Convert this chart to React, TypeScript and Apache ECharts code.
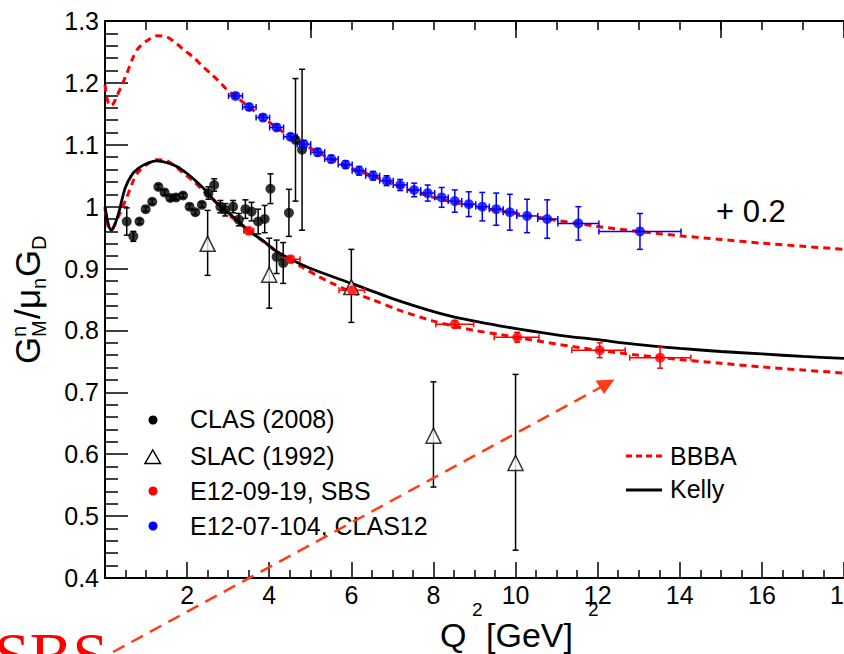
import React, { useEffect, useRef } from "react";
import * as echarts from "echarts";

// ---------- data ----------
// CLAS (2008)
const clasQ2 = [0.53, 0.69, 0.84, 0.99, 1.15, 1.30, 1.45, 1.59, 1.73, 1.90, 2.06, 2.20, 2.36, 2.52, 2.66, 2.81, 2.93, 3.12, 3.26, 3.42, 3.57, 3.73, 3.89, 4.03, 4.18, 4.34, 4.48, 4.64, 4.80];
const clasG = [0.976, 0.952, 0.976, 0.996, 1.008, 1.032, 1.023, 1.014, 1.015, 1.018, 1.000, 0.991, 1.003, 1.022, 1.035, 1.000, 0.995, 1.000, 0.979, 0.996, 0.992, 0.976, 0.980, 1.029, 0.919, 0.909, 0.990, 1.108, 1.092];
const clasErr = [0.022, 0.008, 0.004, 0.004, 0.004, 0.004, 0.004, 0.004, 0.004, 0.004, 0.004, 0.004, 0.004, 0.010, 0.010, 0.010, 0.010, 0.010, 0.010, 0.015, 0.015, 0.020, 0.022, 0.024, 0.027, 0.033, 0.038, 0.099, 0.130];

// SLAC (1992)
const slacQ2 = [2.5, 4.0, 6.0, 8.0, 10.0];
const slacG = [0.940, 0.890, 0.870, 0.630, 0.586];
const slacLo = [0.889, 0.836, 0.813, 0.547, 0.445];
const slacHi = [0.994, 0.949, 0.931, 0.717, 0.729];

// E12-09-19, SBS
const sbsQ2 = [3.50, 4.52, 6.02, 8.52, 10.04, 12.05, 13.52];
const sbsG = [0.961, 0.915, 0.865, 0.810, 0.789, 0.768, 0.756];
const sbsXLo = [3.38, 4.30, 5.70, 8.06, 9.48, 11.37, 12.78];
const sbsXHi = [3.62, 4.75, 6.32, 8.98, 10.57, 12.67, 14.27];
const sbsErr = [0.004, 0.005, 0.006, 0.006, 0.008, 0.012, 0.017];

// E12-07-104, CLAS12 (shown shifted by +0.2)
const clas12Q2 = [3.18, 3.51, 3.85, 4.18, 4.52, 4.84, 5.18, 5.51, 5.86, 6.19, 6.53, 6.86, 7.19, 7.53, 7.86, 8.20, 8.52, 8.86, 9.19, 9.53, 9.86, 10.28, 10.77, 11.53, 13.03];
const clas12G = [1.179, 1.161, 1.144, 1.128, 1.113, 1.101, 1.088, 1.077, 1.068, 1.058, 1.050, 1.042, 1.035, 1.027, 1.022, 1.015, 1.009, 1.004, 1.000, 0.996, 0.991, 0.985, 0.980, 0.973, 0.960];
const clas12XLo = [3.01, 3.35, 3.68, 4.01, 4.35, 4.68, 5.01, 5.35, 5.68, 6.02, 6.35, 6.69, 7.02, 7.36, 7.69, 8.03, 8.36, 8.69, 9.03, 9.36, 9.70, 10.03, 10.54, 11.03, 12.03];
const clas12XHi = [3.35, 3.68, 4.01, 4.35, 4.68, 5.01, 5.35, 5.68, 6.02, 6.35, 6.69, 7.02, 7.36, 7.69, 8.03, 8.36, 8.69, 9.03, 9.36, 9.70, 10.03, 10.54, 11.03, 12.03, 14.03];
const clas12Err = [0.004, 0.005, 0.005, 0.005, 0.005, 0.006, 0.006, 0.006, 0.006, 0.007, 0.007, 0.008, 0.009, 0.011, 0.013, 0.016, 0.018, 0.020, 0.023, 0.026, 0.029, 0.027, 0.031, 0.027, 0.029];

// BBBA parametrisation
const bbbaQ2 = [0, 0.05, 0.12, 0.2, 0.3, 0.4, 0.53, 0.69, 0.81, 1.02, 1.26, 1.51, 1.75, 1.95, 2.16, 2.36, 2.56, 2.77, 2.97, 3.18, 3.51, 3.85, 4.18, 4.52, 4.84, 5.18, 5.51, 6.0, 6.5, 7.2, 8.0, 8.5, 9.0, 9.65, 10.0, 11.0, 12.0, 13.0, 14.0, 15.0, 16.0, 17.0, 18.0];
const bbbaG = [0.997, 0.975, 0.963, 0.966, 0.980, 0.995, 1.015, 1.042, 1.056, 1.068, 1.076, 1.074, 1.063, 1.052, 1.041, 1.028, 1.016, 1.003, 0.989, 0.978, 0.961, 0.944, 0.928, 0.913, 0.901, 0.888, 0.877, 0.862, 0.850, 0.832, 0.815, 0.807, 0.800, 0.793, 0.789, 0.778, 0.768, 0.760, 0.753, 0.747, 0.741, 0.736, 0.731];
const bbbaShift = 0.2;

// Kelly parametrisation
const kellyQ2 = [0, 0.08, 0.15, 0.22, 0.33, 0.49, 0.65, 0.81, 1.06, 1.26, 1.51, 1.75, 1.99, 2.24, 2.48, 2.73, 2.97, 3.26, 3.50, 3.83, 4.15, 4.56, 5.09, 6.0, 7.2, 8.42, 9.65, 11.0, 12.0, 13.0, 14.0, 15.0, 16.0, 17.0, 18.0];
const kellyG = [1.000, 0.972, 0.962, 0.968, 0.989, 1.030, 1.051, 1.062, 1.071, 1.074, 1.071, 1.065, 1.054, 1.040, 1.024, 1.005, 0.992, 0.976, 0.961, 0.946, 0.929, 0.914, 0.898, 0.876, 0.847, 0.823, 0.807, 0.793, 0.785, 0.777, 0.771, 0.766, 0.762, 0.758, 0.755];

const legendLabels = ["CLAS (2008)", "SLAC (1992)", "E12-09-19, SBS", "E12-07-104, CLAS12"];
const curveLabels = ["BBBA", "Kelly"];

const SANS = "'Liberation Sans', Arial, Helvetica, sans-serif";
const SERIF = "'Liberation Serif', 'Times New Roman', serif";

function errRender(color: string, cap: number, width: number) {
  return (params: any, api: any) => {
    const x = api.value(0), y = api.value(1);
    const xl = api.value(2), xh = api.value(3);
    const yl = api.value(4), yh = api.value(5);
    const c = api.coord([x, y]);
    const a = api.coord([x, yl]);
    const b = api.coord([x, yh]);
    const l = api.coord([xl, y]);
    const r = api.coord([xh, y]);
    const st = () => ({ stroke: color, lineWidth: width });
    const ch: any[] = [];
    if (yh > yl) {
      ch.push({ type: "line", shape: { x1: c[0], y1: a[1], x2: c[0], y2: b[1] }, style: st() });
      ch.push({ type: "line", shape: { x1: c[0] - cap, y1: a[1], x2: c[0] + cap, y2: a[1] }, style: st() });
      ch.push({ type: "line", shape: { x1: c[0] - cap, y1: b[1], x2: c[0] + cap, y2: b[1] }, style: st() });
    }
    if (xh > xl) {
      ch.push({ type: "line", shape: { x1: l[0], y1: c[1], x2: r[0], y2: c[1] }, style: st() });
      ch.push({ type: "line", shape: { x1: l[0], y1: c[1] - cap, x2: l[0], y2: c[1] + cap }, style: st() });
      ch.push({ type: "line", shape: { x1: r[0], y1: c[1] - cap, x2: r[0], y2: c[1] + cap }, style: st() });
    }
    return { type: "group", children: ch };
  };
}

function txt(x: number, y: number, text: string, fontSize: number, extra: any = {}) {
  return {
    type: "text",
    x,
    y,
    z: 100,
    style: {
      text,
      fontSize,
      fontFamily: SANS,
      fill: "#000",
      align: "left",
      verticalAlign: "middle",
      textAlign: "left",
      textVerticalAlign: "middle",
      ...extra,
    },
  };
}

export default function App() {
  const ref = useRef<HTMLDivElement>(null);

  useEffect(() => {
    if (!ref.current) return;
    const chart = echarts.init(ref.current, null, { renderer: "svg" });

    const clasErrData = clasQ2.map((q, i) => [q, clasG[i], q, q, clasG[i] - clasErr[i], clasG[i] + clasErr[i]]);
    const slacErrData = slacQ2.map((q, i) => [q, slacG[i], q, q, slacLo[i], slacHi[i]]);
    const sbsErrData = sbsQ2.map((q, i) => [q, sbsG[i], sbsXLo[i], sbsXHi[i], sbsG[i] - sbsErr[i], sbsG[i] + sbsErr[i]]);
    const clas12ErrData = clas12Q2.map((q, i) => [q, clas12G[i], clas12XLo[i], clas12XHi[i], clas12G[i] - clas12Err[i], clas12G[i] + clas12Err[i]]);

    const tickStyle = { color: "#000", width: 1.5 };
    const axisLineStyle = { color: "#000", width: 2 };

    const option: any = {
      animation: false,
      backgroundColor: "#fff",
      grid: { left: 105, right: 0, top: 21, bottom: 76, containLabel: false, outerBoundsMode: "none" },
      xAxis: [
        {
          type: "value",
          position: "bottom",
          min: 0,
          max: 18,
          interval: 2,
          axisLine: { show: true, onZero: false, lineStyle: axisLineStyle },
          axisTick: { show: true, inside: true, length: 16, lineStyle: tickStyle },
          minorTick: { show: true, splitNumber: 4, length: 8, lineStyle: tickStyle },
          axisLabel: {
            show: true,
            margin: 4,
            fontSize: 25,
            fontFamily: SANS,
            color: "#000",
            hideOverlap: false,
            formatter: (v: number) => (v === 0 ? "" : String(Math.round(v))),
          },
          splitLine: { show: false },
          minorSplitLine: { show: false },
        },
        {
          type: "value",
          position: "top",
          min: 0,
          max: 18,
          interval: 1,
          axisLine: { show: true, onZero: false, lineStyle: axisLineStyle },
          axisTick: { show: true, inside: true, length: 9, lineStyle: tickStyle },
          axisLabel: { show: false },
          splitLine: { show: false },
        },
        {
          type: "value",
          position: "top",
          min: 0,
          max: 18,
          interval: 5,
          axisLine: { show: false, onZero: false },
          axisTick: { show: true, inside: true, length: 17, lineStyle: tickStyle },
          axisLabel: { show: false },
          splitLine: { show: false },
        },
      ],
      yAxis: {
        type: "value",
        min: 0.4,
        max: 1.3,
        interval: 0.1,
        axisLine: { show: true, onZero: false, lineStyle: axisLineStyle },
        axisTick: { show: true, inside: true, length: 23, lineStyle: tickStyle },
        minorTick: { show: true, splitNumber: 5, length: 13, lineStyle: tickStyle },
        axisLabel: {
          show: true,
          margin: 6,
          fontSize: 25,
          fontFamily: SANS,
          color: "#000",
          formatter: (v: number) => String(Math.round(v * 10) / 10),
        },
        splitLine: { show: false },
        minorSplitLine: { show: false },
      },
      series: [
        {
          name: "BBBA + 0.2",
          type: "line",
          data: bbbaQ2.map((q, i) => [q, bbbaG[i] + bbbaShift]),
          smooth: 0.3,
          symbol: "none",
          lineStyle: { color: "#ff0000", width: 3, type: [7, 5] },
          z: 2,
        },
        {
          name: curveLabels[0],
          type: "line",
          data: bbbaQ2.map((q, i) => [q, bbbaG[i]]),
          smooth: 0.3,
          symbol: "none",
          lineStyle: { color: "#ff0000", width: 3, type: [7, 5] },
          z: 2,
        },
        {
          name: curveLabels[1],
          type: "line",
          data: kellyQ2.map((q, i) => [q, kellyG[i]]),
          smooth: 0.3,
          symbol: "none",
          lineStyle: { color: "#000", width: 2.8 },
          z: 2,
        },
        { type: "custom", renderItem: errRender("#000", 3, 1.5), data: clasErrData, z: 3, silent: true },
        { type: "custom", renderItem: errRender("#000", 3, 1.5), data: slacErrData, z: 3, silent: true },
        { type: "custom", renderItem: errRender("#ff0000", 3, 1.5), data: sbsErrData, z: 3, silent: true },
        { type: "custom", renderItem: errRender("#0000ff", 3, 1.5), data: clas12ErrData, z: 3, silent: true },
        {
          name: legendLabels[1],
          type: "scatter",
          data: slacQ2.map((q, i) => [q, slacG[i]]),
          symbol: "triangle",
          symbolSize: 15,
          itemStyle: { color: "#fff", borderColor: "#000", borderWidth: 1.5 },
          z: 4,
        },
        {
          name: legendLabels[0],
          type: "scatter",
          data: clasQ2.map((q, i) => [q, clasG[i]]),
          symbol: "circle",
          symbolSize: 10,
          itemStyle: { color: "#000" },
          z: 5,
        },
        {
          name: legendLabels[2],
          type: "scatter",
          data: sbsQ2.map((q, i) => [q, sbsG[i]]),
          symbol: "circle",
          symbolSize: 10,
          itemStyle: { color: "#ff0000" },
          z: 6,
        },
        {
          name: legendLabels[3],
          type: "scatter",
          data: clas12Q2.map((q, i) => [q, clas12G[i]]),
          symbol: "circle",
          symbolSize: 10,
          itemStyle: { color: "#0000ff" },
          z: 6,
        },
      ],
      graphic: [
        // data legend
        { type: "circle", z: 100, shape: { cx: 153, cy: 420, r: 4.5 }, style: { fill: "#000" } },
        { type: "polygon", z: 100, shape: { points: [[145, 463.5], [160.5, 463.5], [152.75, 450]] }, style: { fill: "none", stroke: "#000", lineWidth: 1.5 } },
        { type: "circle", z: 100, shape: { cx: 153, cy: 491, r: 4.5 }, style: { fill: "#ff0000" } },
        { type: "circle", z: 100, shape: { cx: 153, cy: 526, r: 4.5 }, style: { fill: "#0000ff" } },
        txt(190, 419, legendLabels[0], 25),
        txt(190, 456, legendLabels[1], 25),
        txt(190, 491, legendLabels[2], 25),
        txt(190, 526, legendLabels[3], 25),
        // curve legend
        { type: "line", z: 100, shape: { x1: 626, y1: 456, x2: 662, y2: 456 }, style: { stroke: "#ff0000", lineWidth: 3, lineDash: [6, 4] } },
        { type: "line", z: 100, shape: { x1: 626, y1: 490, x2: 662, y2: 490 }, style: { stroke: "#000", lineWidth: 2.8 } },
        txt(670, 456, curveLabels[0], 25),
        txt(670, 489, curveLabels[1], 25),
        // offset note
        txt(716, 211, "+ 0.2", 31),
        // y-axis title (rotated)
        {
          type: "group",
          x: 40,
          y: 364,
          rotation: Math.PI / 2,
          z: 100,
          children: [
            txt(0, -12.1, "G", 35),
            txt(27, -20.9, "n", 20),
            txt(27, -0.9, "M", 20),
            txt(45, -12.1, "/", 35),
            txt(55, -12.1, "μ", 35),
            txt(75, -0.9, "n", 20),
            txt(87, -12.1, "G", 35),
            txt(114, -0.9, "D", 20),
          ],
        },
        // x-axis title
        txt(440, 635, "Q", 34),
        txt(472, 609, "2", 19),
        txt(486, 635, "[GeV]", 34),
        txt(588, 609, "2", 19),
        // SBS annotation
        {
          type: "text",
          x: 108,
          y: 655,
          z: 100,
          style: {
            text: "SBS",
            fontSize: 64,
            fontFamily: SERIF,
            fill: "#ff0000",
            align: "right",
            verticalAlign: "middle",
            textAlign: "right",
            textVerticalAlign: "middle",
          },
        },
        { type: "line", z: 100, shape: { x1: 113, y1: 652, x2: 603, y2: 386 }, style: { stroke: "#ff3c14", lineWidth: 2.5, lineDash: [13, 8] } },
        { type: "polygon", z: 100, shape: { points: [[595.5, 380.5], [614.5, 379.5], [604, 394]] }, style: { fill: "#ff3c14" } },
      ],
    };

    chart.setOption(option);
    return () => chart.dispose();
  }, []);

  return (
    <div
      ref={ref}
      style={{ position: "fixed", left: 0, top: 0, width: 844, height: 654, background: "#fff" }}
    />
  );
}
